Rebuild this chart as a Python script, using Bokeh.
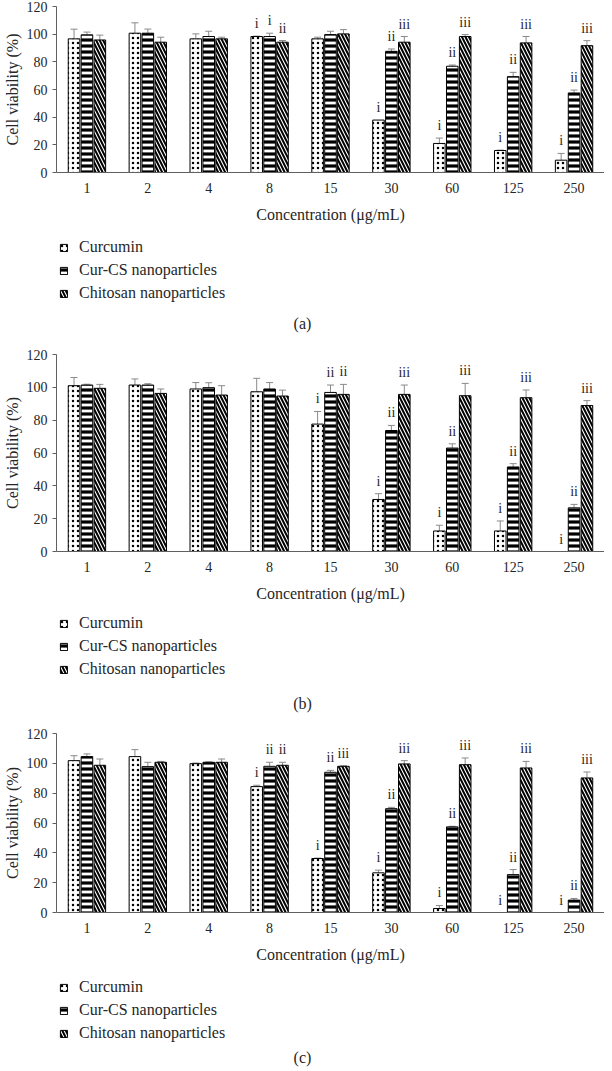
from bokeh.plotting import figure
from bokeh.models import (ColumnDataSource, FactorRange, Range1d, Whisker, TeeHead,
                          Legend, LegendItem, Label, SingleIntervalTicker)
from bokeh.transform import dodge
from bokeh.layouts import column
from bokeh.embed import file_html
from bokeh.resources import INLINE
from bokeh.core.properties import value

# ---------------- data ----------------
concentrations = ["1", "2", "4", "8", "15", "30", "60", "125", "250"]
series_names = ["Curcumin", "Cur-CS nanoparticles", "Chitosan nanoparticles"]

# panel (a)
a_curcumin = [96.6, 100.7, 96.6, 98.3, 96.6, 37.9, 21.0, 15.9, 8.9]
a_curcumin_err = [7.0, 7.5, 3.6, 0.3, 1.2, 0.0, 3.9, 0.3, 4.9]
a_curcs = [99.5, 100.7, 98.3, 98.3, 99.7, 87.6, 76.8, 69.3, 57.5]
a_curcs_err = [2.0, 3.0, 3.8, 2.4, 2.4, 1.7, 0.9, 3.1, 2.1]
a_chitosan = [95.8, 94.2, 96.6, 94.2, 100.2, 94.2, 98.3, 93.7, 91.7]
a_chitosan_err = [3.5, 3.6, 1.2, 1.2, 3.1, 4.1, 1.4, 4.6, 3.6]
a_curcumin_lbl = ["", "", "", "i", "", "i", "i", "i", "i"]
a_curcs_lbl = ["", "", "", "i", "", "ii", "ii", "ii", "ii"]
a_chitosan_lbl = ["", "", "", "ii", "", "iii", "iii", "iii", "iii"]

# panel (b)
b_curcumin = [101.0, 101.4, 99.0, 97.3, 77.6, 31.7, 12.5, 12.5, 0.0]
b_curcumin_err = [5.0, 3.7, 3.9, 8.2, 7.7, 3.5, 3.5, 6.1, 0.0]
b_curcs = [101.4, 101.4, 99.8, 99.0, 96.9, 73.7, 63.0, 51.5, 26.6]
b_curcs_err = [0.5, 0.8, 3.0, 3.9, 4.5, 3.1, 2.6, 2.0, 2.1]
b_chitosan = [99.4, 96.3, 95.3, 94.7, 95.7, 95.7, 94.9, 93.7, 88.9]
b_chitosan_err = [2.4, 2.7, 5.7, 3.6, 6.1, 5.7, 7.5, 4.7, 3.0]
b_curcumin_lbl = ["", "", "", "", "i", "i", "i", "i", "i"]
b_curcs_lbl = ["", "", "", "", "ii", "ii", "ii", "ii", "ii"]
b_chitosan_lbl = ["", "", "", "", "ii", "iii", "iii", "iii", "iii"]

# panel (c)
c_curcumin = [101.8, 104.5, 99.8, 84.4, 36.2, 26.6, 2.7, 0.0, 0.0]
c_curcumin_err = [3.3, 4.7, 0.4, 0.9, 0.3, 1.8, 2.0, 0.0, 0.0]
c_curcs = [104.5, 97.8, 100.7, 98.0, 94.0, 69.6, 57.4, 25.4, 8.3]
c_curcs_err = [1.8, 2.9, 0.3, 2.7, 1.3, 0.9, 0.4, 3.4, 1.1]
c_chitosan = [98.7, 100.7, 100.7, 98.7, 98.0, 99.6, 99.1, 96.9, 90.2]
c_chitosan_err = [4.2, 0.6, 2.2, 2.0, 0.4, 2.2, 4.5, 4.4, 4.0]
c_curcumin_lbl = ["", "", "", "i", "i", "i", "i", "i", "i"]
c_curcs_lbl = ["", "", "", "ii", "ii", "ii", "ii", "ii", "ii"]
c_chitosan_lbl = ["", "", "", "ii", "iii", "iii", "iii", "iii", "iii"]

y_ticks_interval = 20

# ---------------- style ----------------
FONT_NAME = "Liberation Serif"
FONT = value(FONT_NAME)
TEXT_COLOR = "#262626"
AXIS_COLOR = "#606060"
ERR_COLOR = "#8a8a8a"
OFFSETS = [-0.212, 0.0, 0.212]
BAR_W = 0.19
HATCH = [
    dict(hatch_pattern="dot", hatch_scale=5, hatch_weight=1.0),
    dict(hatch_pattern="horizontal_line", hatch_scale=6, hatch_weight=3.2),
    dict(hatch_pattern="\\", hatch_scale=7, hatch_weight=2.0),
]
BAR_STYLE = dict(fill_color="white", line_color="black", line_width=1, hatch_color="black")


def make_panel(vals, errs, lbls, frame_h, b_top, b_bottom):
    p = figure(x_range=FactorRange(*concentrations), y_range=Range1d(0, 120),
               width=604, height=b_top + frame_h + b_bottom,
               min_border_top=b_top, min_border_bottom=b_bottom,
               min_border_left=40, min_border_right=0,
               output_backend="svg", toolbar_location=None)
    p.outline_line_color = None
    p.xgrid.grid_line_color = None
    p.ygrid.grid_line_color = None

    for k in range(3):
        v, e, l = vals[k], errs[k], lbls[k]
        src = ColumnDataSource(dict(conc=concentrations, val=v, err=e,
                                    top_err=[a + b for a, b in zip(v, e)], lbl=l))
        xd = dodge("conc", OFFSETS[k], range=p.x_range)
        p.vbar(x=xd, top="val", width=BAR_W, source=src, **BAR_STYLE, **HATCH[k])

        idx = [i for i in range(len(concentrations)) if e[i] > 0]
        wsrc = ColumnDataSource(dict(conc=[concentrations[i] for i in idx],
                                     upper=[v[i] + e[i] for i in idx],
                                     lower=[v[i] - e[i] for i in idx]))
        w = Whisker(base=dodge("conc", OFFSETS[k], range=p.x_range), upper="upper",
                    lower="lower", source=wsrc, line_color=ERR_COLOR, line_width=1,
                    upper_head=TeeHead(size=7, line_color=ERR_COLOR, line_width=1),
                    lower_head=TeeHead(size=7, line_color=ERR_COLOR, line_width=1))
        p.add_layout(w)

        p.text(x=xd, y="top_err", text="lbl", source=src, text_align="center",
               text_baseline="bottom", y_offset=-5, text_font=FONT,
               text_font_size="14px", text_color=TEXT_COLOR)

    p.yaxis.ticker = SingleIntervalTicker(interval=y_ticks_interval)
    p.yaxis.minor_tick_line_color = None
    p.yaxis.major_tick_out = 4
    p.yaxis.major_tick_in = 0
    p.yaxis.major_tick_line_color = AXIS_COLOR
    p.yaxis.major_label_standoff = 5
    p.yaxis.axis_label = "Cell viability (%)"
    p.yaxis.axis_label_standoff = 3
    p.xaxis.axis_label = "Concentration (μg/mL)"
    p.xaxis.major_tick_line_color = None
    p.xaxis.minor_tick_line_color = None
    p.xaxis.major_label_standoff = 4
    p.xaxis.axis_label_standoff = 10
    for ax in (p.xaxis, p.yaxis):
        ax.axis_line_color = AXIS_COLOR
        ax.major_label_text_font = FONT_NAME
        ax.major_label_text_font_size = "14px"
        ax.major_label_text_color = TEXT_COLOR
        ax.axis_label_text_font = FONT_NAME
        ax.axis_label_text_font_size = "16px"
        ax.axis_label_text_font_style = "normal"
        ax.axis_label_text_color = TEXT_COLOR
    return p


def make_legend_fig(vals, caption, h, legend_top, caption_mid):
    # Legend strip below a panel; its bars use the panel's data but lie outside
    # this strip's visible y-range, so only the legend swatches show.
    q = figure(width=604, height=h, x_range=FactorRange(*concentrations),
               y_range=Range1d(1000, 1001),
               x_axis_type=None, y_axis_type=None, min_border=0,
               output_backend="svg", toolbar_location=None)
    q.outline_line_color = None
    q.grid.visible = False
    items = []
    for k in range(3):
        src = ColumnDataSource(dict(conc=concentrations, val=vals[k]))
        r = q.vbar(x=dodge("conc", OFFSETS[k], range=q.x_range), top="val",
                   width=BAR_W, source=src, **BAR_STYLE, **HATCH[k])
        items.append(LegendItem(label=series_names[k], renderers=[r]))
    legend_h = 3 * 20 + 2 * 3
    legend = Legend(items=items, location=(3, h - legend_top - legend_h),
                    orientation="vertical", border_line_color=None,
                    background_fill_alpha=0, padding=0, margin=0, spacing=3,
                    glyph_width=9, glyph_height=9, label_height=20, label_standoff=11,
                    label_text_font=FONT_NAME, label_text_font_size="16px",
                    label_text_color=TEXT_COLOR)
    q.add_layout(legend)
    cap = Label(x=246, y=h - caption_mid, x_units="screen", y_units="screen", text=caption,
                text_align="center", text_baseline="middle",
                text_font=FONT_NAME, text_font_size="16px", text_color=TEXT_COLOR)
    q.add_layout(cap)
    return q


a_vals = [a_curcumin, a_curcs, a_chitosan]
b_vals = [b_curcumin, b_curcs, b_chitosan]
c_vals = [c_curcumin, c_curcs, c_chitosan]

pa = make_panel(a_vals, [a_curcumin_err, a_curcs_err, a_chitosan_err],
                [a_curcumin_lbl, a_curcs_lbl, a_chitosan_lbl], 166, 6, 54)
la = make_legend_fig(a_vals, "(a)", 112, 11, 97)
pb = make_panel(b_vals, [b_curcumin_err, b_curcs_err, b_chitosan_err],
                [b_curcumin_lbl, b_curcs_lbl, b_chitosan_lbl], 197, 16, 54)
lb = make_legend_fig(b_vals, "(b)", 112, 8, 98)
pc = make_panel(c_vals, [c_curcumin_err, c_curcs_err, c_chitosan_err],
                [c_curcumin_lbl, c_curcs_lbl, c_chitosan_lbl], 179, 16, 54)
lc = make_legend_fig(c_vals, "(c)", 102, 11, 91)

layout = column(pa, la, pb, lb, pc, lc, spacing=0)
open("out.html", "w").write(file_html(layout, INLINE))
